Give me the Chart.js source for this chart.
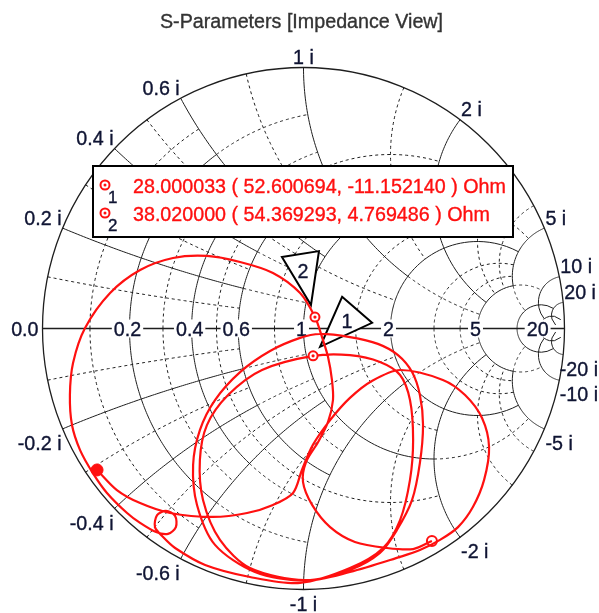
<!DOCTYPE html>
<html lang="en">
<head>
<meta charset="UTF-8">
<title>S-Parameters [Impedance View]</title>
<style>
  html, body { margin: 0; padding: 0; background: #fff; }
  canvas { display: block; }
</style>
</head>
<body>
<canvas id="smith" width="599" height="613"></canvas>
<script src="https://cdn.jsdelivr.net/npm/chart.js"></script>
<script>
const TITLE = 'S-Parameters [Impedance View]';

// tick labels: normalised resistance on the real axis, reactance on the rim
const REAL_TICKS = [0.2, 0.4, 0.6, 1, 2, 5, 20];
const IMAG_TICKS = [0.2, 0.4, 0.6, 1, 2, 5, 10, 20];

// grid arcs: [value, from, to, dashed] - used for both r circles (over x) and x arcs (over r)
const GRID_LINES = [
  [0.1, 0, 0.6, 1],
  [0.2, 0, 0.6, 0], [0.2, 0.6, 1, 1],
  [0.3, 0, 0.6, 1],
  [0.4, 0, 0.6, 0], [0.4, 0.6, 1, 1],
  [0.5, 0, 2, 1],
  [0.6, 0, 1, 0],
  [0.8, 0, 1, 1],
  [1, 0, 2, 0], [1, 2, 5, 1],
  [1.5, 0, 2, 1],
  [2, 0, 5, 0],
  [3, 0, 5, 1],
  [4, 0, 5, 1],
  [5, 0, 5, 0], [5, 5, 10, 1],
  [10, 0, 20, 0],
  [20, 0, 50, 0]
];

// measured trace, reflection coefficient (real, imaginary)
const TRACE_RE = [
  -0.791,
  -0.715, -0.626, -0.511, -0.347, -0.216, -0.117, -0.040, -0.006, 0.036, 0.102,
  0.178, 0.262, 0.370, 0.534, 0.619, 0.684, 0.711, 0.692, 0.649, 0.592,
  0.523, 0.446, 0.370, 0.178, 0.006,
  -0.186, -0.339, -0.408, -0.423, -0.397, -0.339, -0.243, -0.128, -0.013, 0.063,
  0.178, 0.285, 0.362, 0.416, 0.446, 0.458, 0.446, 0.416, 0.358, 0.293, 0.178, 0.006,
  -0.205, -0.320, -0.385, -0.397, -0.370, -0.289, -0.159, 0.037, 0.178, 0.293,
  0.370, 0.408, 0.420, 0.408, 0.370, 0.305, 0.178, -0.013,
  -0.205, -0.377, -0.492, -0.538,
  -0.569, -0.561, -0.527, -0.492, -0.489, -0.519, -0.565,
  -0.626, -0.676, -0.753, -0.807, -0.856, -0.887, -0.895, -0.883, -0.837, -0.741,
  -0.626, -0.500, -0.370, -0.243, -0.117, -0.013, 0.044, 0.071, 0.094, 0.109,
  0.113, 0.094, 0.056, 0.010, -0.002, 0.033, 0.102, 0.197, 0.320, 0.420, 0.492
];
const TRACE_IM = [
  -0.542,
  -0.619, -0.669, -0.707, -0.722, -0.707, -0.676, -0.630, -0.542, -0.446, -0.351,
  -0.266, -0.201, -0.159, -0.197, -0.255, -0.343, -0.454, -0.580, -0.684, -0.761,
  -0.810, -0.849, -0.875, -0.933, -0.967,
  -0.933, -0.829, -0.676, -0.523, -0.389, -0.274, -0.167, -0.086, -0.036, -0.021,
  -0.033, -0.059, -0.102, -0.167, -0.255, -0.370, -0.515, -0.657, -0.772, -0.860, -0.925, -0.964,
  -0.918, -0.810, -0.657, -0.504, -0.370, -0.255, -0.159, -0.105, -0.102, -0.128,
  -0.178, -0.274, -0.427, -0.580, -0.734, -0.841, -0.918, -0.975,
  -0.952, -0.906, -0.841, -0.799,
  -0.761, -0.715, -0.699, -0.718, -0.761, -0.787, -0.780,
  -0.745, -0.707, -0.630, -0.554, -0.466, -0.370, -0.255, -0.132, 0.002, 0.136,
  0.224, 0.270, 0.278, 0.255, 0.213, 0.136, 0.044, -0.033, -0.109, -0.197,
  -0.274, -0.358, -0.435, -0.511, -0.588, -0.676, -0.761, -0.818, -0.841, -0.845, -0.814
];

// markers: frequency (MHz), impedance (Ohm)
const Z0 = 50;
const MARKER_FREQ = ['28.000033', '38.020000'];
const MARKER_R = [52.600694, 54.369293];
const MARKER_X = [-11.152140, 4.769486];

const FONT = '19.7px "Liberation Sans", Arial, sans-serif';
const INK = '#0f1433';
const RED = '#ff1010';

function gamma(r, x) {
  const d = (r + 1) * (r + 1) + x * x;
  return { x: (r * r + x * x - 1) / d, y: 2 * x / d };
}

function arcPoints(fixed, from, to, isR) {
  const a = Math.atan(from), b = Math.atan(to), pts = [];
  for (let i = 0; i <= 80; i++) {
    const v = Math.tan(a + (b - a) * i / 80);
    pts.push(isR ? gamma(fixed, v) : gamma(v, fixed));
  }
  return pts;
}

// slightly heavier text, closer to the ClearType look of the original
function label(ctx, txt, x, y) {
  ctx.fillText(txt, x, y);
  ctx.lineWidth = 0.35;
  ctx.strokeStyle = ctx.fillStyle;
  ctx.strokeText(txt, x, y);
}

const markerPts = MARKER_R.map((r, i) => gamma(r / Z0, MARKER_X[i] / Z0));

const smithGrid = {
  id: 'smithGrid',
  beforeDatasetsDraw(chart) {
    const { ctx, width, scales: { x: sx, y: sy } } = chart;
    const px = v => sx.getPixelForValue(v);
    const py = v => sy.getPixelForValue(v);
    const stroke = (pts, sign) => {
      ctx.beginPath();
      pts.forEach((p, i) => i ? ctx.lineTo(px(p.x), py(sign * p.y)) : ctx.moveTo(px(p.x), py(sign * p.y)));
      ctx.stroke();
    };
    ctx.save();
    ctx.strokeStyle = '#1e1e1e';
    ctx.lineWidth = 1;
    GRID_LINES.forEach(([v, from, to, dashed]) => {
      ctx.setLineDash(dashed ? [3, 3] : []);
      [1, -1].forEach(s => {
        stroke(arcPoints(v, from, to, true), s);
        stroke(arcPoints(v, from, to, false), s);
      });
    });
    ctx.setLineDash([]);
    ctx.lineWidth = 1.3;
    const cx = px(0), cy = py(0), R = px(1) - px(0);
    ctx.beginPath();
    ctx.arc(cx, cy, R, 0, Math.PI * 2);
    ctx.stroke();
    ctx.beginPath();
    ctx.moveTo(px(-1), cy);
    ctx.lineTo(px(1), cy);
    ctx.stroke();

    // labels
    ctx.font = FONT;
    ctx.textBaseline = 'alphabetic';
    REAL_TICKS.forEach(r => {
      const g = gamma(r, 0);
      const txt = String(r), w = ctx.measureText(txt).width;
      const x0 = px(g.x) - 2;
      ctx.fillStyle = '#fff';
      ctx.fillRect(x0 - w / 2 - 2, cy - 9, w + 4, 18);
      ctx.fillStyle = INK;
      ctx.textAlign = 'center';
      label(ctx, txt, x0, cy + 7);
    });
    ctx.textAlign = 'right';
    label(ctx, '0.0', px(-1) - 4, cy + 7);
    IMAG_TICKS.forEach(x => [1, -1].forEach(s => {
      const g = gamma(0, s * x);
      const txt = (s < 0 ? '-' : '') + x + ' i';
      const align = Math.abs(g.x) < 0.05 ? 'center' : (g.x < 0 ? 'right' : 'left');
      let tx = px(g.x) + (align === 'left' ? 1 : (align === 'right' ? -1 : 0));
      if (align === 'left') tx = Math.min(tx, width - 1 - ctx.measureText(txt).width);
      ctx.textAlign = align;
      label(ctx, txt, tx, py(g.y) + (s > 0 ? -3.5 : 21));
    }));

    // marker flags
    const flags = [
      { tri: [[29, -59], [59, -33], [7, -9]], lab: [34, -28] },
      { tri: [[-33, -60], [4, -66], [-4, -12]], lab: [-12, -39] }
    ];
    markerPts.forEach((m, i) => {
      const mx = px(m.x), my = py(m.y), f = flags[i];
      ctx.beginPath();
      f.tri.forEach(([dx, dy], k) => k ? ctx.lineTo(mx + dx, my + dy) : ctx.moveTo(mx + dx, my + dy));
      ctx.closePath();
      ctx.fillStyle = '#fff';
      ctx.fill();
      ctx.lineWidth = 2;
      ctx.strokeStyle = '#000';
      ctx.stroke();
      ctx.fillStyle = INK;
      ctx.textAlign = 'center';
      label(ctx, String(i + 1), mx + f.lab[0], my + f.lab[1]);
    });
    ctx.restore();
  },
  afterDatasetsDraw(chart) {
    const { ctx } = chart;
    ctx.save();
    ctx.font = FONT;
    ctx.fillStyle = '#333';
    ctx.textAlign = 'center';
    ctx.textBaseline = 'alphabetic';
    label(ctx, TITLE, 301.5, 28);

    // marker read-out box
    const bx = 93, by = 166, bw = 420, bh = 71;
    ctx.fillStyle = '#fff';
    ctx.fillRect(bx, by, bw, bh);
    ctx.lineWidth = 2;
    ctx.strokeStyle = '#000';
    ctx.strokeRect(bx, by, bw, bh);
    MARKER_FREQ.forEach((f, i) => {
      const ry = by + 19 + i * 28;
      ctx.beginPath();
      ctx.arc(bx + 12, ry, 4.5, 0, Math.PI * 2);
      ctx.lineWidth = 2;
      ctx.strokeStyle = RED;
      ctx.stroke();
      ctx.beginPath();
      ctx.arc(bx + 12, ry, 1.5, 0, Math.PI * 2);
      ctx.fillStyle = RED;
      ctx.fill();
      ctx.textAlign = 'left';
      label(ctx, `${f} ( ${MARKER_R[i].toFixed(6)}, ${MARKER_X[i].toFixed(6)} ) Ohm`, bx + 40, ry + 8);
      ctx.fillStyle = INK;
      ctx.font = '17px "Liberation Sans", Arial, sans-serif';
      label(ctx, String(i + 1), bx + 15, ry + 18);
      ctx.font = FONT;
    });
    ctx.restore();
  }
};

const tracePts = TRACE_RE.map((x, i) => ({ x, y: TRACE_IM[i] }));

new Chart(document.getElementById('smith'), {
  type: 'scatter',
  data: {
    datasets: [
      { data: markerPts, pointRadius: 1.6, pointBackgroundColor: RED, pointBorderWidth: 0, order: 0, clip: false },
      { data: markerPts, pointRadius: 4.5, pointBackgroundColor: '#fff', pointBorderColor: RED, pointBorderWidth: 2, order: 1, clip: false },
      { data: [tracePts[0]], pointRadius: 6, pointBackgroundColor: RED, pointBorderColor: RED, order: 2, clip: false },
      { data: [tracePts[tracePts.length - 1]], pointRadius: 5, pointBackgroundColor: 'rgba(255,255,255,0)', pointBorderColor: RED, pointBorderWidth: 2, order: 3, clip: false },
      { data: tracePts, showLine: true, borderColor: RED, borderWidth: 2.2, pointRadius: 0, tension: 0.3, fill: false, order: 5, clip: false }
    ]
  },
  options: {
    responsive: false,
    animation: false,
    layout: { padding: { left: 42.5, right: 34.5, top: 67.5, bottom: 23.5 } },
    scales: {
      x: { type: 'linear', min: -1, max: 1, display: false },
      y: { type: 'linear', min: -1, max: 1, display: false }
    },
    plugins: { legend: { display: false }, tooltip: { enabled: false } }
  },
  plugins: [smithGrid]
});
</script>
</body>
</html>
